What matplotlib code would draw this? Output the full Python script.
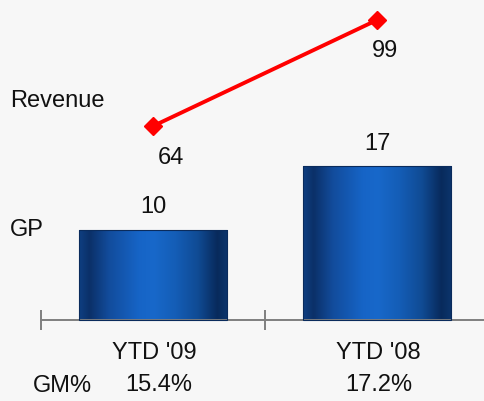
import numpy as np
import matplotlib
matplotlib.use("Agg")
import matplotlib.pyplot as plt
from matplotlib.colors import LinearSegmentedColormap

# Data
categories = ["YTD '09", "YTD '08"]
gp_values = [10, 17]
revenue_values = [64, 99]
gm_pct = ["15.4%", "17.2%"]

plt.rcParams["font.family"] = ["Liberation Sans", "DejaVu Sans"]

W, H = 485, 401
fig = plt.figure(figsize=(W / 100, H / 100), dpi=100)
bg = "#f7f7f7"
fig.patch.set_facecolor(bg)

ax = fig.add_axes([0, 0, 1, 1])
ax.set_facecolor(bg)

# pixel geometry of the plotting frame
x0_px, dx_px = 153, 224          # center of first category, category spacing
base_px = 320                     # baseline (from top)
gp_scale = 9.05                   # px per GP unit
rev_scale = 3.03                  # px per revenue unit

xlim = (-x0_px / dx_px, (W - x0_px) / dx_px)
ylim = (-(H - base_px) / gp_scale, base_px / gp_scale)

ax2 = ax.twinx()
ax2.set_ylim(-(H - base_px) / rev_scale, base_px / rev_scale)
ax2.set_position([0, 0, 1, 1])
for a in (ax, ax2):
    for s in a.spines.values():
        s.set_visible(False)
    a.set_yticks([])

# bottom axis line with category dividers
ax.spines["bottom"].set_visible(True)
ax.spines["bottom"].set_position(("data", 0))
ax.spines["bottom"].set_bounds(-0.5, 2.0)
ax.spines["bottom"].set_color("#7f7f7f")
ax.spines["bottom"].set_linewidth(1.4)
ax.set_xticks([-0.5, 0.5])
ax.set_xticklabels([])
ax.tick_params(axis="x", direction="inout", length=14, width=1.4, color="#7f7f7f")

# gradient bars
stops = [0, 0.07, 0.2, 0.4, 0.5, 0.65, 0.8, 0.93, 1.0]
cols = ["#0f3f82", "#0b3068", "#124c9c", "#1664c6", "#1868ca",
        "#145db6", "#104b94", "#082a5c", "#0c356c"]
cmap = LinearSegmentedColormap.from_list("barblue", list(zip(stops, cols)))
grad = np.linspace(0, 1, 256).reshape(1, -1)

bar_w = 0.665
x = np.arange(len(categories))
bars = ax.bar(x, gp_values, width=bar_w, color="none", edgecolor="#0a2b5c",
              linewidth=0.8, zorder=3)
for b in bars:
    bx, by = b.get_x(), b.get_y()
    bw, bh = b.get_width(), b.get_height()
    im = ax.imshow(grad, cmap=cmap, aspect="auto",
                   extent=[bx, bx + bw, by, by + bh], zorder=2,
                   interpolation="bicubic")
    im.set_clip_path(b)
ax.set_xlim(*xlim)
ax.set_ylim(*ylim)

txt = "#111111"
fs = 17

for xi, v in zip(x, gp_values):
    ax.annotate(f"{v}", (xi, v), xytext=(0, 16), textcoords="offset points",
                ha="center", va="center", fontsize=fs, color=txt)

# revenue line
ax2.plot(x, revenue_values, color="#ff0000", lw=2.8, marker="D",
         markersize=9, zorder=5)
rev_offsets = [(13, -23), (6, -22)]
for xi, v, off in zip(x, revenue_values, rev_offsets):
    ax2.annotate(f"{v}", (xi, v), xytext=off, textcoords="offset points",
                 ha="center", va="center", fontsize=fs, color=txt)

# series names on the left
fig.text(10 / W, 1 - 101 / H, "Revenue", ha="left", va="center",
         fontsize=fs, color=txt)
fig.text(10 / W, 1 - 230 / H, "GP", ha="left", va="center",
         fontsize=fs, color=txt)

# category labels and GM%
for xi, c, g in zip(x, categories, gm_pct):
    ax.annotate(c, (xi, 0), xytext=(1, -24), textcoords="offset points",
                ha="center", va="center", fontsize=fs, color=txt)
    ax.annotate(g, (xi, 0), xytext=(4 if xi == 0 else 1, -47),
                textcoords="offset points",
                ha="center", va="center", fontsize=fs, color=txt)
fig.text(33 / W, 1 - 386 / H, "GM%", ha="left", va="center",
         fontsize=fs, color=txt)

fig.savefig("out.png", dpi=100, facecolor=bg)
